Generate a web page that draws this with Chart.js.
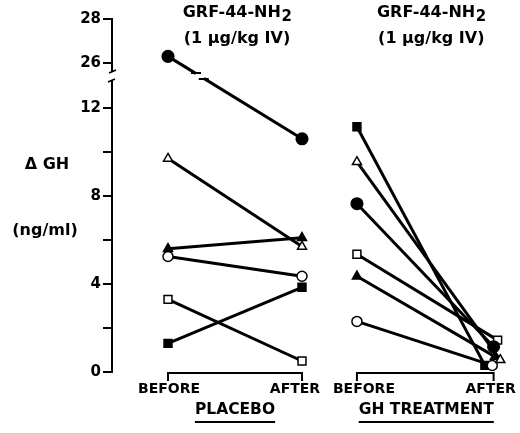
<!DOCTYPE html>
<html>
<head>
<meta charset="utf-8">
<script src="https://cdn.jsdelivr.net/npm/chart.js@4/dist/chart.umd.min.js"></script>
<style>
  html, body { margin: 0; padding: 0; background: #fff; }
  #wrap { width: 520px; height: 433px; }
</style>
</head>
<body>
<div id="wrap"><canvas id="c" width="520" height="433"></canvas></div>
<script>
// ---- Data (ΔGH, ng/ml) ----
const subjects      = ['filledCircle', 'openTriangle', 'filledTriangle', 'openCircle', 'openSquare', 'filledSquare'];
const placeboBefore = [26.3, 9.7, 5.6, 5.25, 3.3, 1.3];
const placeboAfter  = [10.6, 5.7, 6.1, 4.35, 0.5, 3.85];
const ghBefore      = [7.65, 9.55, 4.35, 2.3, 5.35, 11.15];
const ghAfter       = [1.15, 0.55, 0.7, 0.3, 1.45, 0.3];
const yTickValues   = [0, 2, 4, 6, 8, 10, 12, 26, 28];
const yTickLabels   = ['0', '', '4', '', '8', '', '12', '26', '28'];
const groups        = ['PLACEBO', 'GH TREATMENT'];
const timeLabels    = ['BEFORE', 'AFTER'];
const headerLine1   = 'GRF-44-NH';
const headerSub     = '2';
const headerLine2   = '(1 µg/kg IV)';

// ---- Broken axis transform (values >= 26 shown above a break) ----
const LOWER_MAX = 12, UPPER_MIN = 26, GAP = 45 / 22;
function mapY(v) { return v >= 20 ? v - UPPER_MIN + LOWER_MAX + GAP : v; }

// ---- x layout (abstract units) ----
const xPos = { pb: 0, pa: 1, gb: 1.41, ga: 2.43 };
const ghAfterJitter = [0, 0.05, 0.01, -0.01, 0.03, -0.065];

const styles = {
  filledCircle:   { pointStyle: 'circle',   r: 5.8, fill: '#000' },
  openCircle:     { pointStyle: 'circle',   r: 5.0, fill: '#fff' },
  filledTriangle: { pointStyle: 'triangle', r: 5.2, fill: '#000' },
  openTriangle:   { pointStyle: 'triangle', r: 5.2, fill: '#fff' },
  filledSquare:   { pointStyle: 'rect',     r: 5.6, fill: '#000' },
  openSquare:     { pointStyle: 'rect',     r: 5.6, fill: '#fff' }
};

const datasets = [];
subjects.forEach((s, i) => {
  const st = styles[s];
  const base = {
    showLine: true, borderColor: '#000', borderWidth: 3,
    pointStyle: st.pointStyle, pointRadius: st.r, pointBackgroundColor: st.fill,
    pointBorderColor: '#000', pointBorderWidth: 1.5, pointHoverRadius: st.r
  };
  datasets.push(Object.assign({}, base, {
    label: 'placebo-' + s,
    data: [{ x: xPos.pb, y: mapY(placeboBefore[i]) }, { x: xPos.pa, y: mapY(placeboAfter[i]) }]
  }));
  datasets.push(Object.assign({}, base, {
    label: 'gh-' + s,
    data: [{ x: xPos.gb, y: mapY(ghBefore[i]) }, { x: xPos.ga + ghAfterJitter[i], y: mapY(ghAfter[i]) }]
  }));
});

const FONT = '"DejaVu Sans", sans-serif';

const decor = {
  id: 'decor',
  afterDraw(chart) {
    const ctx = chart.ctx;
    const xs = chart.scales.x, ys = chart.scales.y;
    const axisX = ys.right;
    const y12 = ys.getPixelForValue(LOWER_MAX);
    const y26 = ys.getPixelForValue(mapY(UPPER_MIN));
    const breakTop = y26 + 9, breakBot = y12 - 28;
    ctx.save();
    // axis break
    ctx.fillStyle = '#fff';
    ctx.fillRect(axisX - 4, breakTop, 8, breakBot - breakTop);
    ctx.strokeStyle = '#000'; ctx.lineWidth = 1.8;
    ctx.beginPath();
    ctx.moveTo(axisX - 3, breakTop + 1); ctx.lineTo(axisX + 4, breakTop - 2);
    ctx.moveTo(axisX - 4, breakBot + 2); ctx.lineTo(axisX + 3, breakBot - 1);
    ctx.stroke();
    // break on the line that crosses the gap
    const meta = chart.getDatasetMeta(0);
    const p0 = meta.data[0], p1 = meta.data[1];
    const yMid = (breakTop + breakBot) / 2;
    const t = (yMid - p0.y) / (p1.y - p0.y);
    const xm = p0.x + t * (p1.x - p0.x);
    const dx = (p1.x - p0.x) / (p1.y - p0.y);
    ctx.strokeStyle = '#fff'; ctx.lineWidth = 6;
    ctx.beginPath();
    ctx.moveTo(xm - dx * 2.5, yMid - 2.5); ctx.lineTo(xm + dx * 2.5, yMid + 2.5);
    ctx.stroke();
    ctx.strokeStyle = '#000'; ctx.lineWidth = 1.8;
    ctx.beginPath();
    ctx.moveTo(xm - dx * 3 - 4, yMid - 3); ctx.lineTo(xm - dx * 3 + 6, yMid - 3);
    ctx.moveTo(xm + dx * 3 - 6, yMid + 3); ctx.lineTo(xm + dx * 3 + 4, yMid + 3);
    ctx.stroke();

    ctx.fillStyle = '#000';
    ctx.textBaseline = 'middle';
    // y-axis title
    ctx.font = 'bold 16px ' + FONT;
    ctx.textAlign = 'center';
    ctx.fillText('Δ GH', 47, 165);
    ctx.fillText('(ng/ml)', 45, 231);

    // headers
    function header(cx) {
      ctx.font = 'bold 16px ' + FONT;
      const w1 = ctx.measureText(headerLine1).width;
      ctx.font = 'bold 15px ' + FONT;
      const w2 = ctx.measureText(headerSub).width;
      const left = cx - (w1 + w2) / 2;
      ctx.textAlign = 'left';
      ctx.font = 'bold 16px ' + FONT;
      ctx.fillText(headerLine1, left, 13);
      ctx.font = 'bold 15px ' + FONT;
      ctx.fillText(headerSub, left + w1 + 0.5, 17);
      ctx.font = 'bold 16px ' + FONT;
      ctx.textAlign = 'center';
      ctx.fillText(headerLine2, cx, 39);
    }
    const pbx = xs.getPixelForValue(xPos.pb), pax = xs.getPixelForValue(xPos.pa);
    const gbx = xs.getPixelForValue(xPos.gb), gax = xs.getPixelForValue(xPos.ga);
    header((pbx + pax) / 2 + 2);
    header((gbx + gax) / 2 + 6);

    // brackets
    const y0 = ys.getPixelForValue(0);
    const by = y0 + 1, bTick = 8;
    ctx.strokeStyle = '#000'; ctx.lineWidth = 2;
    [[pbx, pax], [gbx, gax]].forEach(([a, b]) => {
      ctx.beginPath();
      ctx.moveTo(a, by + bTick); ctx.lineTo(a, by); ctx.lineTo(b, by); ctx.lineTo(b, by + bTick);
      ctx.stroke();
    });

    // BEFORE / AFTER labels
    ctx.font = 'bold 14px ' + FONT;
    ctx.textAlign = 'center';
    const ly = 389;
    ctx.fillText(timeLabels[0], pbx + 1, ly);
    ctx.fillText(timeLabels[1], pax - 7, ly);
    ctx.fillText(timeLabels[0], gbx + 7, ly);
    ctx.fillText(timeLabels[1], gax - 3, ly);

    // group labels with underline
    ctx.font = 'bold 15.5px ' + FONT;
    const gy = 410;
    [[groups[0], (pbx + pax) / 2], [groups[1], (gbx + gax) / 2 + 1]].forEach(([txt, cx]) => {
      ctx.fillText(txt, cx, gy);
      const w = ctx.measureText(txt).width;
      ctx.beginPath();
      ctx.moveTo(cx - w / 2, gy + 12); ctx.lineTo(cx + w / 2, gy + 12);
      ctx.stroke();
    });
    ctx.restore();
  }
};

new Chart(document.getElementById('c'), {
  type: 'scatter',
  data: { datasets },
  options: {
    responsive: false,
    devicePixelRatio: 1,
    animation: false,
    events: [],
    layout: { autoPadding: false, padding: { top: 19, bottom: 61, left: 0, right: 0 } },
    plugins: { legend: { display: false }, tooltip: { enabled: false } },
    scales: {
      x: { type: 'linear', display: false, min: -0.418, max: 2.627 },
      y: {
        type: 'linear', min: 0, max: mapY(28),
        afterFit(s) { s.width = 112; },
        afterBuildTicks(s) { s.ticks = yTickValues.map(v => ({ value: mapY(v) })); },
        ticks: {
          autoSkip: false, padding: 2, color: '#000',
          font: { family: FONT, weight: 'bold', size: 15 },
          callback(value, idx) { return yTickLabels[idx]; }
        },
        grid: { drawOnChartArea: false, drawTicks: true, tickLength: 9, color: '#000', lineWidth: 2 },
        border: { display: true, color: '#000', width: 2 }
      }
    }
  },
  plugins: [decor]
});
</script>
</body>
</html>
